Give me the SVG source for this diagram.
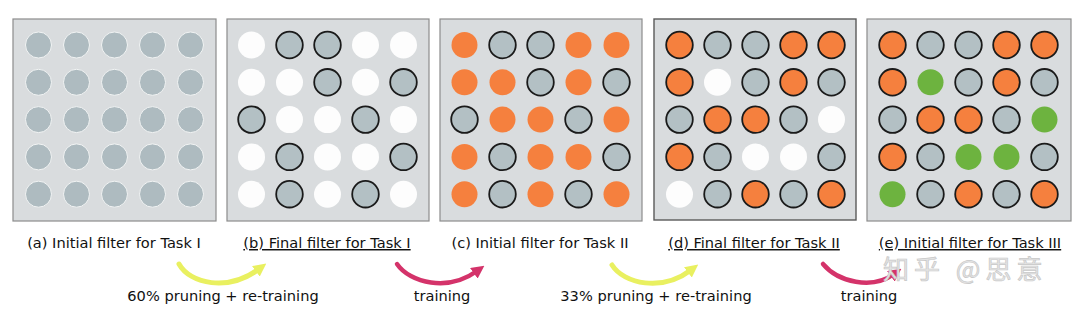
<svg xmlns="http://www.w3.org/2000/svg" width="1080" height="313" viewBox="0 0 1080 313">
<style>
.panel{fill:#d9dcde;stroke:#8c8c8c;stroke-width:1.2}
.paneld{fill:#d9dcde;stroke:#5a5a5a;stroke-width:1.4}
.g{fill:#aebbc0;stroke:#f2f4f4;stroke-width:1}
.go{fill:#b3c0c4;stroke:#1a1a1a;stroke-width:1.8}
.w{fill:#fdfdfd}
.o{fill:#f5803e}
.oo{fill:#f5803e;stroke:#1a1a1a;stroke-width:1.8}
.gr{fill:#6db33f}
.lbl{font-family:"DejaVu Sans",sans-serif;font-size:14.6px;fill:#111;text-anchor:middle}
.u{text-decoration:underline}
.wm{font-family:"Noto Sans CJK SC",sans-serif;font-size:26px;fill:#e4e4e4;stroke:#c8c8c8;stroke-width:0.7;letter-spacing:5px}
</style>
<defs>
<marker id="ahY" viewBox="0 0 10 10" refX="3" refY="5" markerWidth="13" markerHeight="13" markerUnits="userSpaceOnUse" orient="auto"><path d="M0,0 L10,5 L0,10 z" fill="#e9f060"/></marker>
<marker id="ahR" viewBox="0 0 10 10" refX="3" refY="5" markerWidth="13" markerHeight="13" markerUnits="userSpaceOnUse" orient="auto"><path d="M0,0 L10,5 L0,10 z" fill="#d4336a"/></marker>
</defs>
<rect width="1080" height="313" fill="#ffffff"/>

<g id="panel-a">
<rect class="panel" x="13" y="19" width="203" height="202"/>
<g transform="translate(13,0)">
<circle class="g" cx="25.5" cy="45" r="13"/><circle class="g" cx="63.5" cy="45" r="13"/><circle class="g" cx="101.5" cy="45" r="13"/><circle class="g" cx="139.5" cy="45" r="13"/><circle class="g" cx="177.5" cy="45" r="13"/>
<circle class="g" cx="25.5" cy="82.3" r="13"/><circle class="g" cx="63.5" cy="82.3" r="13"/><circle class="g" cx="101.5" cy="82.3" r="13"/><circle class="g" cx="139.5" cy="82.3" r="13"/><circle class="g" cx="177.5" cy="82.3" r="13"/>
<circle class="g" cx="25.5" cy="119.6" r="13"/><circle class="g" cx="63.5" cy="119.6" r="13"/><circle class="g" cx="101.5" cy="119.6" r="13"/><circle class="g" cx="139.5" cy="119.6" r="13"/><circle class="g" cx="177.5" cy="119.6" r="13"/>
<circle class="g" cx="25.5" cy="156.9" r="13"/><circle class="g" cx="63.5" cy="156.9" r="13"/><circle class="g" cx="101.5" cy="156.9" r="13"/><circle class="g" cx="139.5" cy="156.9" r="13"/><circle class="g" cx="177.5" cy="156.9" r="13"/>
<circle class="g" cx="25.5" cy="194.2" r="13"/><circle class="g" cx="63.5" cy="194.2" r="13"/><circle class="g" cx="101.5" cy="194.2" r="13"/><circle class="g" cx="139.5" cy="194.2" r="13"/><circle class="g" cx="177.5" cy="194.2" r="13"/>
</g>
<text class="lbl" x="114" y="248">(a) Initial filter for Task I</text>
</g>

<g id="panel-b">
<rect class="panel" x="227" y="19" width="202" height="202"/>
<g transform="translate(226,0)">
<circle class="w" cx="25.5" cy="45" r="13.5"/><circle class="go" cx="63.5" cy="45" r="13.3"/><circle class="go" cx="101.5" cy="45" r="13.3"/><circle class="w" cx="139.5" cy="45" r="13.5"/><circle class="w" cx="177.5" cy="45" r="13.5"/>
<circle class="w" cx="25.5" cy="82.3" r="13.5"/><circle class="w" cx="63.5" cy="82.3" r="13.5"/><circle class="go" cx="101.5" cy="82.3" r="13.3"/><circle class="w" cx="139.5" cy="82.3" r="13.5"/><circle class="go" cx="177.5" cy="82.3" r="13.3"/>
<circle class="go" cx="25.5" cy="119.6" r="13.3"/><circle class="w" cx="63.5" cy="119.6" r="13.5"/><circle class="w" cx="101.5" cy="119.6" r="13.5"/><circle class="go" cx="139.5" cy="119.6" r="13.3"/><circle class="w" cx="177.5" cy="119.6" r="13.5"/>
<circle class="w" cx="25.5" cy="156.9" r="13.5"/><circle class="go" cx="63.5" cy="156.9" r="13.3"/><circle class="w" cx="101.5" cy="156.9" r="13.5"/><circle class="w" cx="139.5" cy="156.9" r="13.5"/><circle class="go" cx="177.5" cy="156.9" r="13.3"/>
<circle class="w" cx="25.5" cy="194.2" r="13.5"/><circle class="go" cx="63.5" cy="194.2" r="13.3"/><circle class="w" cx="101.5" cy="194.2" r="13.5"/><circle class="go" cx="139.5" cy="194.2" r="13.3"/><circle class="w" cx="177.5" cy="194.2" r="13.5"/>
</g>
<text class="lbl u" x="327" y="248">(b) Final filter for Task I</text>
</g>

<g id="panel-c">
<rect class="panel" x="440" y="19" width="202" height="202"/>
<g transform="translate(439,0)">
<circle class="o" cx="25.5" cy="45" r="13"/><circle class="go" cx="63.5" cy="45" r="13.3"/><circle class="go" cx="101.5" cy="45" r="13.3"/><circle class="o" cx="139.5" cy="45" r="13"/><circle class="o" cx="177.5" cy="45" r="13"/>
<circle class="o" cx="25.5" cy="82.3" r="13"/><circle class="o" cx="63.5" cy="82.3" r="13"/><circle class="go" cx="101.5" cy="82.3" r="13.3"/><circle class="o" cx="139.5" cy="82.3" r="13"/><circle class="go" cx="177.5" cy="82.3" r="13.3"/>
<circle class="go" cx="25.5" cy="119.6" r="13.3"/><circle class="o" cx="63.5" cy="119.6" r="13"/><circle class="o" cx="101.5" cy="119.6" r="13"/><circle class="go" cx="139.5" cy="119.6" r="13.3"/><circle class="o" cx="177.5" cy="119.6" r="13"/>
<circle class="o" cx="25.5" cy="156.9" r="13"/><circle class="go" cx="63.5" cy="156.9" r="13.3"/><circle class="o" cx="101.5" cy="156.9" r="13"/><circle class="o" cx="139.5" cy="156.9" r="13"/><circle class="go" cx="177.5" cy="156.9" r="13.3"/>
<circle class="o" cx="25.5" cy="194.2" r="13"/><circle class="go" cx="63.5" cy="194.2" r="13.3"/><circle class="o" cx="101.5" cy="194.2" r="13"/><circle class="go" cx="139.5" cy="194.2" r="13.3"/><circle class="o" cx="177.5" cy="194.2" r="13"/>
</g>
<text class="lbl" x="540" y="248">(c) Initial filter for Task II</text>
</g>

<g id="panel-d">
<rect class="paneld" x="654" y="19" width="202" height="201"/>
<g transform="translate(654,0)">
<circle class="oo" cx="25.5" cy="45" r="13.3"/><circle class="go" cx="63.5" cy="45" r="13.3"/><circle class="go" cx="101.5" cy="45" r="13.3"/><circle class="oo" cx="139.5" cy="45" r="13.3"/><circle class="oo" cx="177.5" cy="45" r="13.3"/>
<circle class="oo" cx="25.5" cy="82.3" r="13.3"/><circle class="w" cx="63.5" cy="82.3" r="13.5"/><circle class="go" cx="101.5" cy="82.3" r="13.3"/><circle class="oo" cx="139.5" cy="82.3" r="13.3"/><circle class="go" cx="177.5" cy="82.3" r="13.3"/>
<circle class="go" cx="25.5" cy="119.6" r="13.3"/><circle class="oo" cx="63.5" cy="119.6" r="13.3"/><circle class="oo" cx="101.5" cy="119.6" r="13.3"/><circle class="go" cx="139.5" cy="119.6" r="13.3"/><circle class="w" cx="177.5" cy="119.6" r="13.5"/>
<circle class="oo" cx="25.5" cy="156.9" r="13.3"/><circle class="go" cx="63.5" cy="156.9" r="13.3"/><circle class="w" cx="101.5" cy="156.9" r="13.5"/><circle class="w" cx="139.5" cy="156.9" r="13.5"/><circle class="go" cx="177.5" cy="156.9" r="13.3"/>
<circle class="w" cx="25.5" cy="194.2" r="13.5"/><circle class="go" cx="63.5" cy="194.2" r="13.3"/><circle class="oo" cx="101.5" cy="194.2" r="13.3"/><circle class="go" cx="139.5" cy="194.2" r="13.3"/><circle class="oo" cx="177.5" cy="194.2" r="13.3"/>
</g>
<text class="lbl u" x="754" y="248">(d) Final filter for Task II</text>
</g>

<g id="panel-e">
<rect class="panel" x="867" y="19" width="204" height="202"/>
<g transform="translate(867,0)">
<circle class="oo" cx="25.5" cy="45" r="13.3"/><circle class="go" cx="63.5" cy="45" r="13.3"/><circle class="go" cx="101.5" cy="45" r="13.3"/><circle class="oo" cx="139.5" cy="45" r="13.3"/><circle class="oo" cx="177.5" cy="45" r="13.3"/>
<circle class="oo" cx="25.5" cy="82.3" r="13.3"/><circle class="gr" cx="63.5" cy="82.3" r="13"/><circle class="go" cx="101.5" cy="82.3" r="13.3"/><circle class="oo" cx="139.5" cy="82.3" r="13.3"/><circle class="go" cx="177.5" cy="82.3" r="13.3"/>
<circle class="go" cx="25.5" cy="119.6" r="13.3"/><circle class="oo" cx="63.5" cy="119.6" r="13.3"/><circle class="oo" cx="101.5" cy="119.6" r="13.3"/><circle class="go" cx="139.5" cy="119.6" r="13.3"/><circle class="gr" cx="177.5" cy="119.6" r="13"/>
<circle class="oo" cx="25.5" cy="156.9" r="13.3"/><circle class="go" cx="63.5" cy="156.9" r="13.3"/><circle class="gr" cx="101.5" cy="156.9" r="13"/><circle class="gr" cx="139.5" cy="156.9" r="13"/><circle class="go" cx="177.5" cy="156.9" r="13.3"/>
<circle class="gr" cx="25.5" cy="194.2" r="13"/><circle class="go" cx="63.5" cy="194.2" r="13.3"/><circle class="oo" cx="101.5" cy="194.2" r="13.3"/><circle class="go" cx="139.5" cy="194.2" r="13.3"/><circle class="oo" cx="177.5" cy="194.2" r="13.3"/>
</g>
<text class="lbl u" x="970" y="248">(e) Initial filter for Task III</text>
</g>

<g id="connectors" fill="none" stroke-linecap="round">
<path d="M179,264 C190,284 228,292 259,269" stroke="#e9f060" stroke-width="5" marker-end="url(#ahY)"/>
<path d="M397,264 C410,283 448,292 477,271" stroke="#d4336a" stroke-width="4.5" marker-end="url(#ahR)"/>
<path d="M612,265 C624,284 662,292 691,270" stroke="#e9f060" stroke-width="5" marker-end="url(#ahY)"/>
<path d="M823,264 C838,282 872,290 894,274" stroke="#d4336a" stroke-width="4.5" marker-end="url(#ahR)"/>
<text class="lbl" x="223" y="301">60% pruning + re-training</text>
<text class="lbl" x="442" y="301">training</text>
<text class="lbl" x="656" y="301">33% pruning + re-training</text>
<text class="lbl" x="869" y="301">training</text>
</g>

<text class="wm" x="883" y="279">知乎 @思意</text>
</svg>
